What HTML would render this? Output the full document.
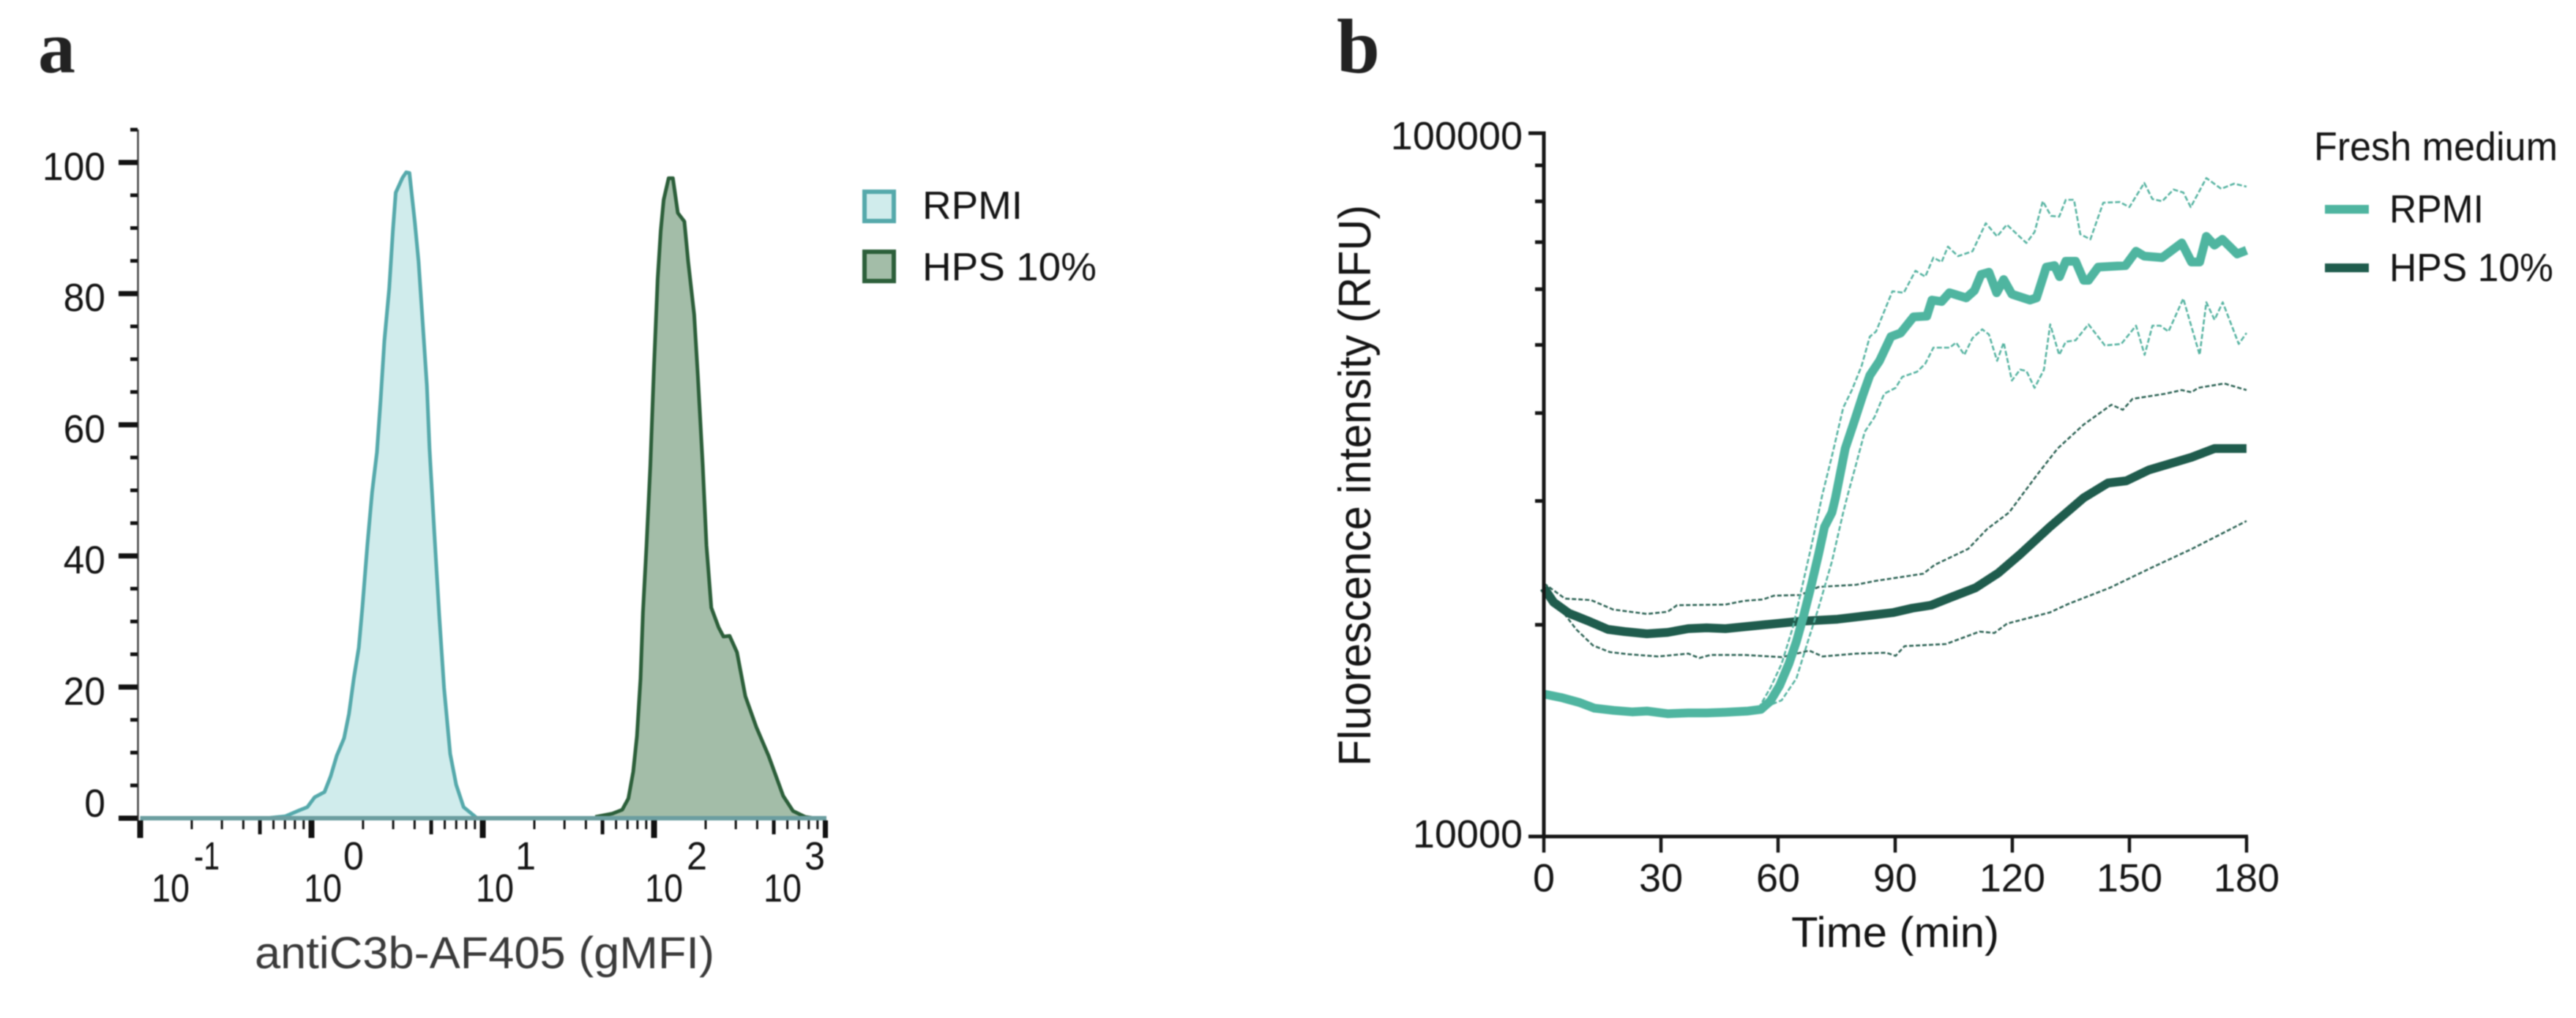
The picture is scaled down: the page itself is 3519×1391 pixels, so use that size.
<!DOCTYPE html>
<html lang="en">
<head>
<meta charset="utf-8">
<title>Complement deposition and fluorescence kinetics</title>
<style>
html,body{margin:0;padding:0;background:#fff;width:3519px;height:1391px;overflow:hidden}
svg{position:absolute;left:0;top:0;display:block;filter:blur(0.7px)}
text{font-family:"Liberation Sans",Arial,sans-serif;fill:#151515}
.panel{font-family:"Liberation Serif",serif;font-weight:700;fill:#222}
</style>
</head>
<body>
<svg id="fig" xmlns="http://www.w3.org/2000/svg" width="3519" height="1391" viewBox="0 0 3519 1391">
  <rect width="3519" height="1391" fill="#fff"/>
  <text class="panel" x="52" y="99" font-size="102">a</text>
  <text class="panel" x="1826" y="99" font-size="106">b</text>

  <g id="panelA">
    <g font-size="54">
      <text x="207" y="1232" textLength="52" lengthAdjust="spacingAndGlyphs">10</text>
      <text x="265" y="1188" textLength="35" lengthAdjust="spacingAndGlyphs">-1</text>
      <text x="415" y="1232" textLength="52" lengthAdjust="spacingAndGlyphs">10</text>
      <text x="469" y="1188" textLength="28" lengthAdjust="spacingAndGlyphs">0</text>
      <text x="650" y="1232" textLength="52" lengthAdjust="spacingAndGlyphs">10</text>
      <text x="704" y="1188" textLength="28" lengthAdjust="spacingAndGlyphs">1</text>
      <text x="881" y="1232" textLength="52" lengthAdjust="spacingAndGlyphs">10</text>
      <text x="938" y="1188" textLength="28" lengthAdjust="spacingAndGlyphs">2</text>
      <text x="1043" y="1232" textLength="52" lengthAdjust="spacingAndGlyphs">10</text>
      <text x="1099" y="1188" textLength="28" lengthAdjust="spacingAndGlyphs">3</text>
    </g>
    <text x="348" y="1323" font-size="61" textLength="628" lengthAdjust="spacingAndGlyphs" style="fill:#3a3a3a">antiC3b-AF405 (gMFI)</text>
    <g>
      <rect x="1181" y="262" width="40" height="40" fill="#d0ecec" stroke="#55a9ab" stroke-width="6"/>
      <text x="1260" y="299" font-size="54" textLength="137" lengthAdjust="spacingAndGlyphs">RPMI</text>
      <rect x="1181" y="344" width="40" height="40" fill="#a3bda8" stroke="#2c5f3a" stroke-width="6"/>
      <text x="1260" y="383" font-size="54" textLength="238" lengthAdjust="spacingAndGlyphs">HPS 10%</text>
    </g>
  </g>

  <g id="panelB">
    <text transform="translate(1872,1047) rotate(-90)" font-size="62" textLength="767" lengthAdjust="spacingAndGlyphs">Fluorescence intensity (RFU)</text>
    <text x="2447" y="1294" font-size="58" textLength="284" lengthAdjust="spacingAndGlyphs">Time (min)</text>
    <g>
      <text x="3161" y="219" font-size="55" textLength="333" lengthAdjust="spacingAndGlyphs">Fresh medium</text>
      <line x1="3176" x2="3236" y1="286" y2="286" stroke="#4fb5a0" stroke-width="12"/>
      <text x="3264" y="304" font-size="54" textLength="129" lengthAdjust="spacingAndGlyphs">RPMI</text>
      <line x1="3176" x2="3236" y1="366" y2="366" stroke="#1f5c4d" stroke-width="12"/>
      <text x="3264" y="384" font-size="54" textLength="224" lengthAdjust="spacingAndGlyphs">HPS 10%</text>
    </g>
  </g>
</svg>
<script>
// ---------- Panel a data: log10 intensity and % of maximum ----------
const rpmiHistLog = [-0.266,-0.152,-0.08,-0.024,0.019,0.076,0.112,0.147,0.19,0.219,0.247,0.276,0.297,0.326,0.354,0.382,0.404,0.425,0.454,0.475,0.492,0.532,0.553,0.572,0.603,0.625,0.646,0.674,0.689,0.717,0.746,0.774,0.81,0.845,0.888,0.967];
const rpmiHistPct = [0,0.3,1.1,1.7,3.2,4,6.4,9.5,12.2,15.9,21.3,26,32.1,41.6,49.7,55.8,63.9,72.7,80.8,89.6,95.4,97.7,98.5,98.4,91,84.9,76.8,65.9,56.5,43.6,30.8,19.9,9.8,5.1,1.7,0];
const hpsHistLog = [1.657,1.757,1.814,1.85,1.878,1.9,1.921,1.935,1.956,1.978,1.999,2.021,2.039,2.056,2.085,2.11,2.139,2.177,2.199,2.234,2.256,2.284,2.306,2.334,2.377,2.405,2.441,2.484,2.533,2.597,2.669,2.754,2.811,2.883,2.939];
const hpsHistPct = [0.2,0.7,1.3,3,7.1,12.5,21.3,31.4,41.6,53.8,68.6,82.2,89.6,94.3,97.6,97.6,92.3,91,84.9,76.8,67.3,53.8,41.6,32.1,29.1,27.7,27.8,25.3,18.6,13.9,9.5,3.4,1.1,0.2,0];
const histYMajor = [0,20,40,60,80,100];
const histYMinor = [5,10,15,25,30,35,45,50,55,65,70,75,85,90,95,105];
const histDecades = [-1,0,1,2];
const histDecadeSteps = [2,3,4,5,6,7,8,9];

// ---------- Panel b data: time (min) and RFU ----------
const rpmiMeanTime = [0,4.4,9.2,13,17.9,22.6,26.4,31.7,37,41.7,46.5,52.3,55.6,58,60.4,62.8,64.7,66.6,68.5,70.4,71.9,73.8,74.7,77.2,79.7,81.7,83.5,86,88.9,91.4,94.7,98.1,99.4,101.9,103.9,108.2,110.3,112,114,116,117.8,119.9,124.5,126.2,128.7,130.8,132.1,133.7,136.2,138.3,139.5,142,149,151.7,153.8,158.4,163.4,165.9,168,169.7,171.8,173.8,177.6,180];
const rpmiMeanRFU = [15940,15760,15500,15220,15110,15040,15080,14950,14990,14990,15020,15080,15160,15570,16390,17620,18930,20670,22750,25230,27550,28900,30320,35610,39190,42410,45250,47470,51370,51990,54800,54940,57910,57630,59310,58330,59740,62980,63430,59310,61930,59030,57910,58330,64500,64820,62520,65750,65750,61780,61780,64500,64820,67950,66860,66540,69810,65600,65600,71330,69310,70650,67340,68150];
const rpmiUpperTime = [55,58,60.9,63.8,66.1,68.5,70.4,71.3,73.8,76.7,78.9,81.4,83.5,85.1,87.6,89.3,92.2,95.2,97.7,99.8,101.9,103.5,106.1,109.8,113.2,116.1,118.6,123.6,125.7,127.8,129.9,132,133.7,135.8,137.4,140,143.3,147.5,150,153.8,155.9,158.4,161.3,163.8,165.7,169.7,173.5,176.8,180];
const rpmiUpperRFU = [15210,16260,17600,19840,22580,25830,28900,30540,34760,40720,43130,46680,51370,52240,56540,59600,59310,63740,62520,66540,65600,68980,66860,67950,74470,71330,74120,69810,72360,80020,76280,76090,80400,80400,71840,70650,79640,79830,78500,84960,80600,80020,83150,82360,78500,86340,83350,84760,83950];
const rpmiLowerTime = [55,60.9,64.7,67.6,70.4,73.8,76.7,77.8,79.7,82.2,84.7,87.2,90.1,91.8,95.6,97.7,99.8,104,105.6,107.7,109.8,112.3,114,116.1,117.8,119.9,122,123.6,125.7,128.1,129.7,132,133.7,136.2,139.5,143.7,147.9,151.7,153.9,155.9,157.9,160,163.8,168,169.7,171.8,173.9,178,180];
const rpmiLowerRFU = [15140,15620,16780,18910,21170,24620,28900,30540,33370,37620,39470,42610,43440,45030,45790,47010,49560,49560,50400,48390,51130,52620,51740,47470,50400,44490,46120,45900,43440,46120,53480,48390,50520,50760,53480,49910,50150,53250,48390,53250,53250,52240,58190,48390,57490,54280,57490,50150,51990];
const hpsMeanTime = [0,2.5,6.4,11.1,16.4,20.7,26.4,31.7,37,41.7,46.5,56.1,65.7,75.2,84.8,89.6,94.4,99.2,103.9,110.6,116.4,122.1,129.6,138.3,144.5,149.2,155,165.9,171.8,180];
const hpsMeanRFU = [22580,21530,20770,20280,19700,19560,19420,19510,19750,19800,19750,19990,20230,20370,20670,20820,21120,21320,21840,22580,23690,25220,27550,30320,31810,32040,33210,34600,35610,35610];
const hpsUpperTime = [0,5.4,12.1,17.8,26.4,31.7,34.1,46.5,51.3,56.1,59,65.7,70.4,80,84.8,97.2,100.1,108.7,113.5,119.2,122.4,126.6,131.6,138.3,145.4,148.3,150.8,159.2,163.4,165.9,167.6,174.3,180];
const hpsUpperRFU = [22910,21790,21680,21020,20720,20870,21320,21370,21630,21730,22000,22050,22640,22800,23080,23640,24330,25640,27350,28900,30540,32820,35610,38530,41110,40430,41910,42610,43130,42820,43440,44070,43130];
const hpsLowerTime = [0,4.4,8.3,12.6,16.9,21.7,29.3,37,39.8,42.7,51.3,60.9,68,71.4,80,87.7,90.1,92.4,103,111.6,115.4,118.7,129.6,134.4,145,155.5,166,180];
const hpsLowerRFU = [22580,21020,19700,18690,18290,18160,18030,18200,17940,18120,18120,17990,18380,18030,18200,18250,18070,18650,18780,19560,19470,20080,20820,21420,22580,24090,25640,28090];
const kineticsXTicks = [0,30,60,90,120,150,180];
const kineticsYMajor = [10000,100000];
const kineticsYMinor = [20000,30000,40000,50000,60000,70000,80000,90000];

// ---------- helpers ----------
const NS = 'http://www.w3.org/2000/svg';
function mk(parent, tag, attrs) {
  const el = document.createElementNS(NS, tag);
  for (const k in attrs) el.setAttribute(k, attrs[k]);
  parent.appendChild(el);
  return el;
}
function pathD(xs, ys, fx, fy) {
  return xs.map((v, i) => (i ? 'L' : 'M') + fx(v).toFixed(1) + ' ' + fy(ys[i]).toFixed(1)).join('');
}

// ---------- Panel a ----------
const A = document.getElementById('panelA');
const histX = v => 191.5 + 234 * (v + 1);
const histY = v => 1118 - 8.96 * v;

function drawHist(xs, ys, fill, stroke, name) {
  const d = pathD(xs, ys, histX, histY);
  const area = mk(A, 'path', {d: d + 'L' + histX(xs[xs.length - 1]) + ' ' + histY(0) + 'L' + histX(xs[0]) + ' ' + histY(0) + 'Z', fill: fill});
  
  
  const line = mk(A, 'path', {d: d, fill: 'none', stroke: stroke, 'stroke-width': 5, 'stroke-linejoin': 'round'});
  
  
}
drawHist(rpmiHistLog, rpmiHistPct, '#d0ecec', '#55a9ab', 'rpmi');
drawHist(hpsHistLog, hpsHistPct, '#a3bda8', '#2c5f3a', 'hps');

const baseBand = mk(A, 'line', {x1: histX(-1), x2: 1129, y1: histY(0), y2: histY(0), stroke: '#6c9ea0', 'stroke-width': 6});


const histYAxis = mk(A, 'line', {x1: 188.5, x2: 188.5, y1: 177, y2: 1121, stroke: '#444', 'stroke-width': 2.5});



histYMajor.forEach(v => {
  const t = mk(A, 'rect', {x: 162, y: histY(v) - 3.5, width: 26, height: 7, fill: '#111'});
  
  
  const label = String(v);
  const lab = mk(A, 'text', {x: 144, y: histY(v) + (v === 0 ? -2 : 24), 'font-size': 54, 'text-anchor': 'end', textLength: label.length * 28.7, lengthAdjust: 'spacingAndGlyphs'});
  lab.textContent = label;
  
  
});
histYMinor.forEach(v => {
  const t = mk(A, 'rect', {x: 178, y: histY(v) - 2.5, width: 10, height: 5, fill: '#111'});
  
  
});
function histXTick(lv, w, bottom) {
  const t = mk(A, 'rect', {x: histX(lv) - w / 2, y: 1121, width: w, height: bottom - 1121, fill: '#111'});
  
  
}
histDecades.forEach(k => {
  histXTick(k, 8, 1145);
  histDecadeSteps.forEach(m => {
    const five = m === 5;
    histXTick(k + Math.log10(m), five ? 5 : 3, five ? 1140 : 1133);
  });
});
histXTick(3, 7, 1145);

// ---------- Panel b ----------
const B = document.getElementById('panelB');
const kinX = t => 2109 + 5.333 * t;
const kinY = v => 1143 - 961 * (Math.log10(v) - 4);

function drawKin(ts, vs, color, width, dash, name) {
  const attrs = {d: pathD(ts, vs, kinX, kinY), fill: 'none', stroke: color, 'stroke-width': width, 'stroke-linejoin': 'round'};
  if (dash) attrs['stroke-dasharray'] = dash;
  const p = mk(B, 'path', attrs);
  
  
}
drawKin(hpsUpperTime, hpsUpperRFU, '#2d6355', 2.6, '6 3', 'hps-upper-sd-line');
drawKin(hpsLowerTime, hpsLowerRFU, '#2d6355', 2.6, '6 3', 'hps-lower-sd-line');
drawKin(hpsMeanTime, hpsMeanRFU, '#1f5c4d', 12, null, 'hps-mean-line');
drawKin(rpmiUpperTime, rpmiUpperRFU, '#56b3a1', 2.6, '7 3', 'rpmi-upper-sd-line');
drawKin(rpmiLowerTime, rpmiLowerRFU, '#56b3a1', 2.6, '7 3', 'rpmi-lower-sd-line');
drawKin(rpmiMeanTime, rpmiMeanRFU, '#4fb5a0', 12, null, 'rpmi-mean-line');

const kinYAxis = mk(B, 'line', {x1: kinX(0), x2: kinX(0), y1: kinY(100000) - 2.5, y2: kinY(10000) + 2.5, stroke: '#161616', 'stroke-width': 5});


const kinXAxis = mk(B, 'line', {x1: 2088, x2: kinX(180) + 2, y1: kinY(10000), y2: kinY(10000), stroke: '#161616', 'stroke-width': 5});



kineticsXTicks.forEach(v => {
  const t = mk(B, 'line', {x1: kinX(v), x2: kinX(v), y1: 1143, y2: 1165, stroke: '#161616', 'stroke-width': 4.5});
  
  
  const lab = mk(B, 'text', {x: kinX(v), y: 1218, 'font-size': 54, 'text-anchor': 'middle'});
  lab.textContent = String(v);
  
  
});
kineticsYMajor.forEach(v => {
  const t = mk(B, 'line', {x1: 2088, x2: kinX(0), y1: kinY(v), y2: kinY(v), stroke: '#161616', 'stroke-width': 5});
  
  
  const lab = mk(B, 'text', {x: 2080, y: kinY(v) + (v === 10000 ? 15 : 22), 'font-size': 54, 'text-anchor': 'end'});
  lab.textContent = String(v);
  
  
});
kineticsYMinor.forEach(v => {
  const t = mk(B, 'line', {x1: 2097, x2: kinX(0), y1: kinY(v), y2: kinY(v), stroke: '#161616', 'stroke-width': 5});
  
  
});
</script>
</body>
</html>
